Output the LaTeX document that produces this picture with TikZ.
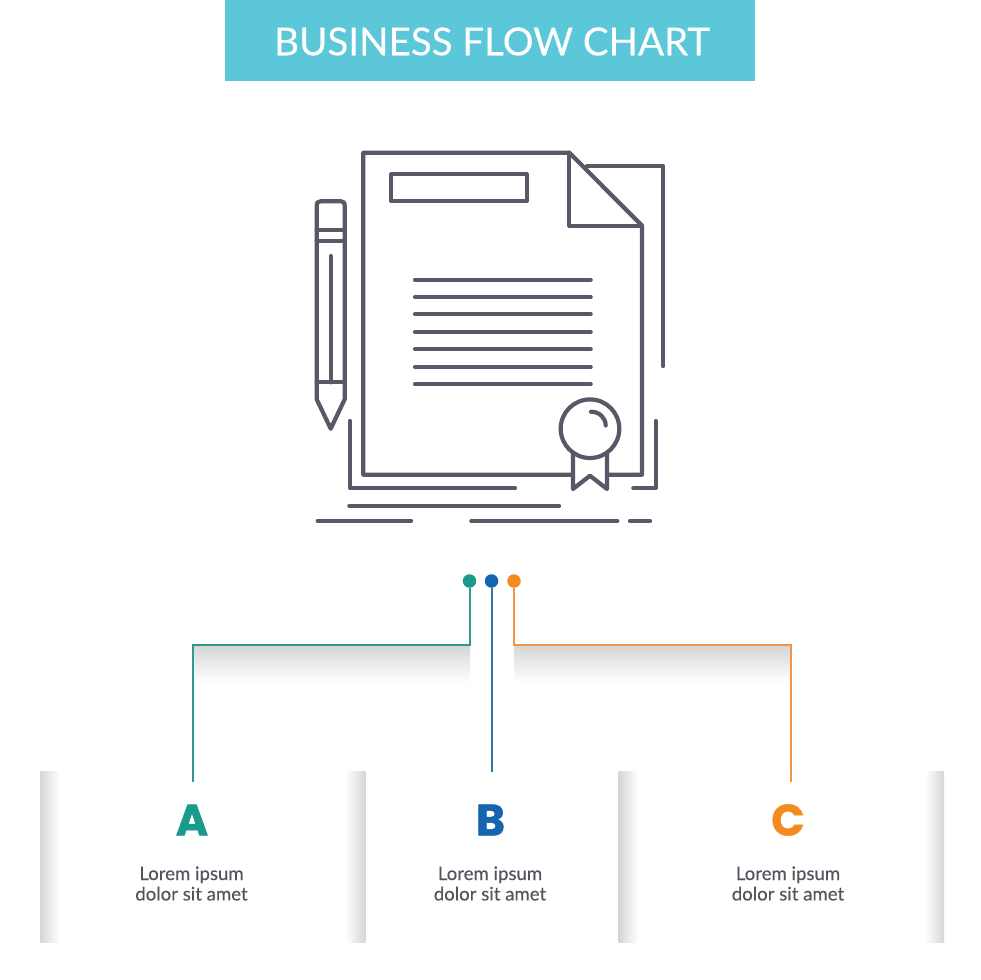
\documentclass[tikz,border=0pt]{standalone}
\usepackage{fontspec}
\setmainfont{Lato}
\newfontfamily\letterfont[FakeBold=1.2]{Poppins Bold}
\newfontfamily\bodyfont[FakeBold=0.25]{Lato}
\newfontfamily\titlefont[FakeBold=0.2]{Lato}
\usetikzlibrary{shadings}
\definecolor{banner}{HTML}{5BC7D9}
\definecolor{ink}{HTML}{5A5766}
\definecolor{bodytxt}{HTML}{55545E}
\definecolor{teal}{HTML}{1A9A8C}
\definecolor{bluec}{HTML}{1565AE}
\definecolor{orangec}{HTML}{F58A1F}
\definecolor{tealline}{HTML}{2F988F}
\definecolor{blueline}{HTML}{2F76A3}
\definecolor{orangeline}{HTML}{F0954A}
\definecolor{shadegrey}{HTML}{D4D6D6}
\tikzset{
  icon/.style={draw=ink,line width=4.2pt,line cap=round,line join=round},
  conn/.style={line width=2pt},
  dotn/.style={circle,inner sep=0pt,minimum size=13.5pt},
  letter/.style={font=\letterfont\fontsize{44}{44}\selectfont,inner sep=0pt},
  bodytext/.style={align=center,text=bodytxt,inner sep=0pt,font=\bodyfont\fontsize{18.6}{20.4}\selectfont},
  stripL/.style={left color=shadegrey,right color=white,draw=none},
  stripR/.style={left color=white,right color=shadegrey,draw=none},
  stripT/.style={top color=shadegrey,bottom color=white,draw=none}
}
\begin{document}
\begin{tikzpicture}[x=1pt,y=-1pt]
\useasboundingbox (0,0) rectangle (980,980);
\fill[white] (0,0) rectangle (980,980);
% banner
\fill[banner] (225,0) rectangle (755,80.5);
\node[text=white,inner sep=0pt,font=\titlefont\fontsize{38.5}{38.5}\selectfont] (title) at (492,41.5) {BUSINESS FLOW CHART};
% back sheet
\draw[icon] (587,166.3) -- (663.3,166.3) -- (663.3,366);
% document
\draw[icon] (573,474.7) -- (363.3,474.7) -- (363.3,152.7) -- (569.3,152.7) -- (642,225.7) -- (642,474.7) -- (607,474.7);
\draw[icon] (569.3,152.7) -- (569.3,225.7) -- (642,225.7);
\draw[icon] (391.3,174.3) rectangle (526.7,201);
\foreach \yy in {279.7,297,314.3,332,349.3,367,384.3}
  \draw[icon] (415,\yy) -- (590.7,\yy);
% pencil
\draw[icon] (316.7,206) .. controls (316.7,202.5) and (318,201.3) .. (320.5,201.3) -- (341,201.3) .. controls (343.5,201.3) and (344.7,202.5) .. (344.7,206) -- (344.7,399.3) -- (330.7,428.7) -- (316.7,399.3) -- cycle;
\draw[icon] (316.7,229.7) -- (344.7,229.7);
\draw[icon] (316.7,241) -- (344.7,241);
\draw[icon] (316.7,382.3) -- (344.7,382.3);
\draw[icon] (330.7,256) -- (330.7,382.3);
% seal
\draw[icon,fill=white] (573,452) -- (573,489) -- (590,475.7) -- (607,489) -- (607,452);
\draw[icon,fill=white] (590,428.7) circle (29.3);
\draw[icon] (591,411.7) .. controls (599.5,411.7) and (605.7,418) .. (605.7,425.5);
% frame and ground lines
\draw[icon] (350,421) -- (350,488.3) -- (515,488.3);
\draw[icon] (633.3,488.3) -- (655.7,488.3) -- (655.7,421);
\draw[icon] (349.3,505.7) -- (559,505.7);
\draw[icon] (317.7,520.7) -- (411,520.7);
\draw[icon] (471.3,521) -- (617.3,521);
\draw[icon] (630,521) -- (650,521);
% shades
\shade[stripT] (193,645) rectangle (470,683);
\shade[stripT] (514,645) rectangle (791,683);
\shade[stripL] (40,771.5) rectangle (60,942.5);
\shade[stripR] (345,771.5) rectangle (365.3,942.5);
\shade[stripL] (618.7,771.5) rectangle (638,942.5);
\shade[stripR] (925,771.5) rectangle (944,942.5);
% dots
\node[dotn,fill=teal] (da) at (469.5,581) {};
\node[dotn,fill=bluec] (db) at (491.5,581) {};
\node[dotn,fill=orangec] (dc) at (514,581) {};
\coordinate (ca) at (192.5,645);
\coordinate (cc) at (791,645);
\coordinate (ea) at (192.5,781.5);
\coordinate (eb) at (491.5,771.5);
\coordinate (ec) at (791,781.5);
\draw[conn,draw=tealline] (da) -- (da |- ca) -- (ca) -- (ea);
\draw[conn,draw=blueline] (db) -- (eb);
\draw[conn,draw=orangeline] (dc) -- (dc |- cc) -- (cc) -- (ec);
% letters
\node[letter,text=teal] (la) at (192,820) {A};
\node[letter,text=bluec] (lb) at (490.5,820) {B};
\node[letter,text=orangec] (lc) at (788,820) {C};
% body text
\node[bodytext] (ta) at (191.5,883.5) {Lorem ipsum\\dolor sit amet};
\node[bodytext] (tb) at (490,883.5) {Lorem ipsum\\dolor sit amet};
\node[bodytext] (tc) at (788,883.5) {Lorem ipsum\\dolor sit amet};
\end{tikzpicture}
\end{document}
